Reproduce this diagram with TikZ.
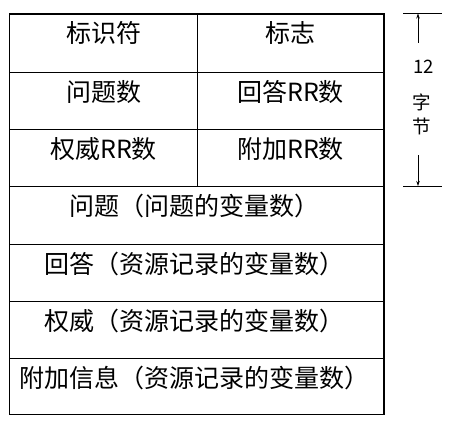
\documentclass[tikz,border=0pt]{standalone}
\usepackage{fontspec}
\setmainfont{Noto Sans CJK SC}
\usetikzlibrary{arrows.meta}
\tikzset{>={Stealth[width=3.5pt,length=5pt]}}
\tikzset{
  cell/.style={anchor=base, inner sep=0pt, font=\fontsize{25pt}{26pt}\selectfont},
  side/.style={anchor=base, inner sep=0pt, font=\fontsize{18.5pt}{19pt}\selectfont},
}

\begin{document}
\begin{tikzpicture}[x=1pt,y=-1pt]
  \useasboundingbox (0,0) rectangle (465,428);

  \newcommand\Lx{103.5}
  \newcommand\Rx{290.5}
  \newcommand\Mx{194}

  %% grid of the header
  \draw[line width=0.8pt] (9.5,72) -- (384,72);
  \draw[line width=0.8pt] (9.5,129) -- (384,129);
  \draw[line width=0.8pt] (9.5,186) -- (384,186);
  \draw[line width=0.8pt] (9.5,244) -- (384,244);
  \draw[line width=0.8pt] (9.5,301) -- (384,301);
  \draw[line width=0.8pt] (9.5,358) -- (384,358);
  \draw[line width=0.8pt] (197,14) -- (197,186);
  \draw[line width=1.4pt] (9.5,14) rectangle (384,414.5);

  \node[cell] (ident) at (\Lx,43) {标识符};
  \node[cell] (flags) at (\Rx,43) {标志};
  \node[cell] (nques) at (\Lx,101) {问题数};
  \node[cell] (nans)  at (\Rx,101) {回答RR数};
  \node[cell] (nauth) at (\Lx,158) {权威RR数};
  \node[cell] (nadd)  at (\Rx,158) {附加RR数};

  \node[cell] (ques) at (\Mx,215) {问题（问题的变量数）};
  \node[cell] (ans)  at (\Mx,273) {回答（资源记录的变量数）};
  \node[cell] (auth) at (\Mx,330) {权威（资源记录的变量数）};
  \node[cell] (add)  at (\Mx,387) {附加信息（资源记录的变量数）};

  %% 12 bytes
  \node[side] (twelve) at (423.5,74) {12};
  \node[side] (zi)     at (421.5,109) {字};
  \node[side] (jie)    at (421.5,133) {节};

  \coordinate (tp) at (418,13.5);
  \coordinate (bt) at (418,186);
  \coordinate (ts) at (418,43);
  \coordinate (bs) at (418,155);
  \draw[line width=0.8pt] ([xshift=-15pt]tp) -- ([xshift=24pt]tp);
  \draw[line width=0.8pt] ([xshift=-15pt]bt) -- ([xshift=24pt]bt);
  \draw[->,line width=0.8pt] (ts) -- (tp); %% up
  \draw[->,line width=0.8pt] (bs) -- (bt); %% down

\end{tikzpicture}
\end{document}
